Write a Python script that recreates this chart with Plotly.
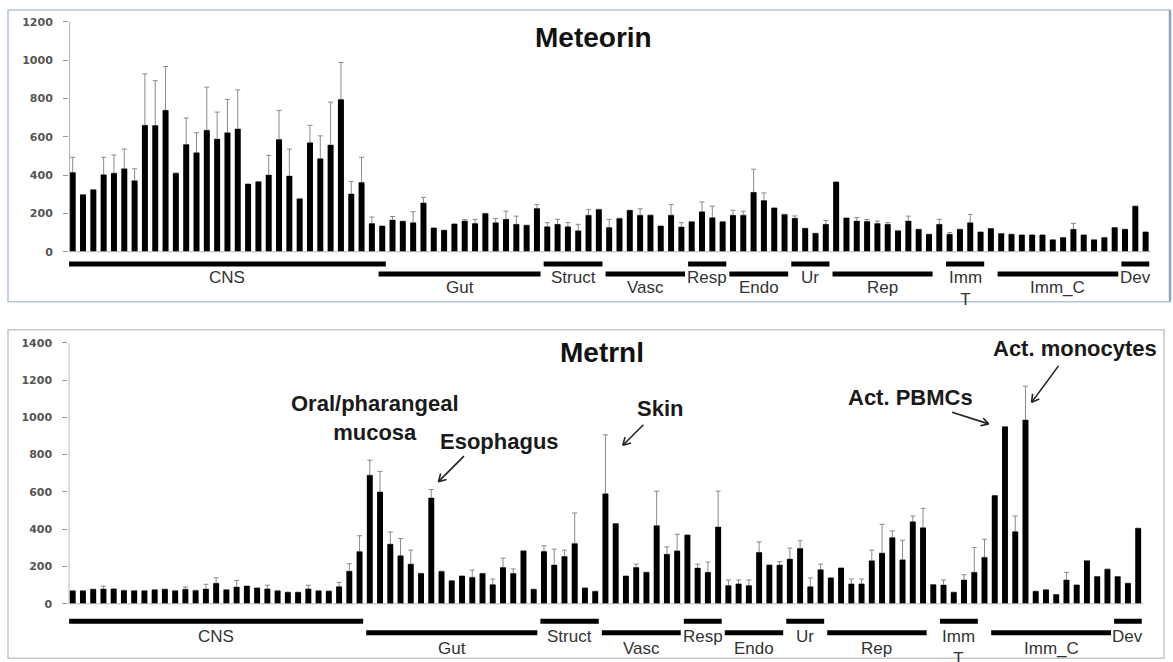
import math
import plotly.graph_objects as go

# ---------------- data ----------------
bar_index = list(range(1, 106))

meteorin = [414, 298, 324, 402, 410, 433, 371, 660, 659, 738,
            410, 560, 517, 634, 588, 621, 641, 353, 366, 400,
            586, 395, 276, 569, 486, 557, 795, 302, 362, 147,
            134, 166, 159, 152, 255, 124, 112, 145, 160, 148,
            200, 152, 169, 143, 138, 226, 131, 143, 131, 109,
            191, 221, 126, 174, 216, 191, 191, 134, 191, 129,
            157, 209, 178, 157, 191, 191, 310, 267, 229, 195,
            175, 122, 96, 143, 364, 176, 160, 158, 148, 143,
            109, 160, 117, 91, 143, 91, 117, 152, 103, 121,
            95, 91, 88, 88, 88, 62, 74, 117, 88, 62,
            74, 126, 117, 238, 103]
meteorin_err = [79, None, None, 91, 95, 103, 62, 268, 234, 229,
                None, 138, 104, 225, 141, 174, 204, None, None, 103,
                152, 141, None, 91, 119, 224, 193, 65, 131, 34,
                None, 18, None, 57, 29, None, None, None, 8, 21,
                None, 22, 43, 43, None, 21, 21, 26, 21, 34,
                30, None, 43, None, None, 33, None, None, 56, 23,
                None, 51, 60, None, 26, 21, 121, 40, None, None,
                12, None, None, 20, None, None, 18, 10, 12, 9,
                None, 26, None, None, 26, 9, None, 43, None, None,
                None, None, None, None, None, None, None, 31, None, None,
                None, None, None, None, None]

metrnl = [70, 70, 78, 80, 80, 72, 70, 70, 75, 78,
          70, 78, 72, 80, 110, 75, 90, 95, 85, 80,
          70, 62, 62, 80, 70, 68, 92, 175, 280, 690,
          600, 320, 258, 213, 163, 568, 174, 124, 149, 142,
          163, 103, 195, 163, 284, 78, 281, 208, 254, 323,
          85, 67, 590, 430, 149, 195, 169, 419, 266, 284,
          369, 192, 169, 412, 98, 107, 98, 276, 208, 208,
          240, 297, 92, 183, 139, 192, 107, 107, 231, 272,
          355, 236, 440, 408, 103, 101, 62, 128, 169, 249,
          581, 950, 387, 986, 67, 75, 50, 128, 101, 231,
          146, 186, 146, 110, 405]
metrnl_err = [None, None, None, 15, None, None, None, None, None, None,
              None, 12, None, 25, 30, None, 35, None, None, 20,
              None, None, None, 20, None, None, 23, 40, 85, 80,
              110, 65, 92, 75, None, 45, None, None, None, 39,
              None, 30, 50, 24, None, None, 30, 85, 34, 164,
              None, None, 316, None, None, 18, None, 185, 39, 89,
              None, 21, 55, 192, 30, 21, 30, 56, None, 18,
              59, 41, 47, 30, None, None, 26, 26, 57, 154,
              36, 105, 31, 104, None, 27, None, 28, 133, 97,
              None, None, 84, 181, None, None, None, 41, None, None,
              None, None, None, None, None]

groups = ["CNS", "Gut", "Struct", "Vasc", "Resp", "Endo", "Ur", "Rep",
          "Imm<br>T", "Imm_C", "Dev"]
meteorin_group_first = [1, 31, 47, 53, 61, 65, 71, 75, 86, 91, 103]
meteorin_group_last = [31, 46, 52, 60, 64, 70, 74, 84, 89, 102, 105]
metrnl_group_first = [1, 30, 47, 53, 61, 65, 71, 75, 86, 91, 103]
metrnl_group_last = [29, 46, 52, 60, 64, 70, 74, 84, 89, 102, 105]

yticks_top = [0, 200, 400, 600, 800, 1000, 1200]
yticks_bot = [0, 200, 400, 600, 800, 1000, 1200, 1400]

# ---------------- layout geometry (pixels) ----------------
W, H = 1173, 662
FONT = "Liberation Sans, Arial, sans-serif"


def pr(px):
    return 1 - px / H


panels = {
    "top": dict(xpx=(69, 1151), xr=(0.641, 105.52), ytop=16.0, yzero=248.0, ybot=297.0,
                ymax=1200, lines_px=(12.4, 22.4), label_px=2.0),
    "bot": dict(xpx=(68.3, 1143.3), xr=(0.57, 105.5), ytop=339.8, yzero=603.3, ybot=660.0,
                ymax=1400, lines_px=(17.7, 29.2), label_px=4.0),
}
for p in panels.values():
    upp = p["ymax"] / (p["yzero"] - p["ytop"])
    p["upp"] = upp
    p["ymin"] = -(p["ybot"] - p["yzero"]) * upp

fig = go.Figure()

shapes = []
annotations = []


def add_panel(values, errs, xa, ya, p, first, last):
    # transparent bars carrying the error bars (drawn first)
    fig.add_trace(go.Bar(x=bar_index, y=values, width=0.58, xaxis=xa, yaxis=ya,
                         marker=dict(color="rgba(0,0,0,0)", line=dict(width=0)),
                         error_y=dict(type="data", symmetric=False, array=errs,
                                      arrayminus=[0] * len(values), color="#8a8a8a",
                                      thickness=1, width=2.5),
                         hoverinfo="skip"))
    fig.add_trace(go.Bar(x=bar_index, y=values, width=0.58, xaxis=xa, yaxis=ya,
                         marker=dict(color="#000000", line=dict(width=0))))
    xref = "x" if xa == "x" else "x2"
    yref = "y" if ya == "y" else "y2"
    upp = p["upp"]
    # axis lines
    shapes.append(dict(type="line", xref=xref, yref=yref, x0=p["xr"][0] + 0.06, x1=p["xr"][0] + 0.06,
                       y0=0, y1=p["ymax"], line=dict(color="#aaaaaa", width=1)))
    shapes.append(dict(type="line", xref=xref, yref=yref, x0=p["xr"][0], x1=p["xr"][1],
                       y0=0, y1=0, line=dict(color="#bbbbbb", width=1)))
    # group bars + labels
    for i, (g, a, b) in enumerate(zip(groups, first, last)):
        off = p["lines_px"][i % 2]
        yl = -off * upp
        shapes.append(dict(type="line", xref=xref, yref=yref, x0=a - 0.35, x1=b + 0.35,
                           y0=yl, y1=yl, line=dict(color="#000000", width=5)))
        annotations.append(dict(xref=xref, yref=yref, x=(a + b) / 2, y=-(off + p["label_px"]) * upp,
                                text=g, showarrow=False, yanchor="top", xanchor="center",
                                font=dict(family=FONT, size=17, color="#333333")))


add_panel(meteorin, meteorin_err, "x", "y", panels["top"], meteorin_group_first, meteorin_group_last)
add_panel(metrnl, metrnl_err, "x2", "y2", panels["bot"], metrnl_group_first, metrnl_group_last)

pt, pb = panels["top"], panels["bot"]

# titles
annotations.append(dict(xref="x", yref="y", x=51.5, y=(pt["yzero"] - 32.0) * pt["upp"],
                        text="<b>Meteorin</b>", showarrow=False,
                        font=dict(family=FONT, size=28, color="#111111")))
annotations.append(dict(xref="x2", yref="y2", x=52.7, y=(pb["yzero"] - 350.0) * pb["upp"],
                        text="<b>Metrnl</b>", showarrow=False,
                        font=dict(family=FONT, size=28, color="#111111")))

# callouts on Metrnl
bold = dict(family=FONT, size=22, color="#1a1a1a")


def by(px):
    return (pb["yzero"] - px) * pb["upp"]


callouts = [
    ("<b>Oral/pharangeal</b><br><b>mucosa</b>", 30.5, by(416)),
    ("<b>Esophagus</b>", 42.7, by(439)),
    ("<b>Skin</b>", 58.3, by(406)),
    ("<b>Act. PBMCs</b>", 82.8, by(395)),
    ("<b>Act. monocytes</b>", 98.85, by(346)),
]
for t, x, y in callouts:
    annotations.append(dict(xref="x2", yref="y2", x=x, y=y, text=t, showarrow=False,
                            font=bold, align="center"))

arrows = [  # head (bar index, value), tail offset px
    (36.7, by(480), 27, -27),
    (54.7, by(443.3), 22, -22),
    (90.4, by(421.7), -38, -12),
    (94.6, by(400), 28, -38),
]
arrow_line = dict(showarrow=True, arrowhead=0, arrowwidth=1.6, arrowcolor="#222222",
                  text="", xref="x2", yref="y2")
for x, y, ax, ay in arrows:
    annotations.append(dict(x=x, y=y, ax=ax, ay=ay, **arrow_line))
    L = math.hypot(ax, ay)
    dx, dy = ax / L, ay / L
    for s in (1, -1):
        th = math.radians(30) * s
        wx = 10 * (dx * math.cos(th) - dy * math.sin(th))
        wy = 10 * (dx * math.sin(th) + dy * math.cos(th))
        annotations.append(dict(x=x, y=y, ax=wx, ay=wy, **arrow_line))

# panel frames
shapes.append(dict(type="rect", xref="paper", yref="paper", x0=8 / W, x1=1170 / W,
                   y0=pr(298.5), y1=pr(4.0), line=dict(color="#b7c5dc", width=1.5)))
shapes.append(dict(type="line", xref="paper", yref="paper", x0=1170 / W, x1=1170 / W,
                   y0=pr(298.5), y1=pr(4.0), line=dict(color="#8fa2c2", width=2.5)))
shapes.append(dict(type="rect", xref="paper", yref="paper", x0=8 / W, x1=1164 / W,
                   y0=pr(658.3), y1=pr(326.7), line=dict(color="#c8c8c8", width=1.5)))

tickfont = dict(family="DejaVu Sans", size=11, color="#555555", weight="bold")
common_x = dict(showgrid=False, zeroline=False, showline=False, showticklabels=False, ticks="")
common_y = dict(showgrid=False, zeroline=False, showline=False, ticks="outside", ticklen=5,
                tickcolor="#999999", tickwidth=1, tickfont=tickfont, ticklabelstandoff=8)

fig.update_layout(
    width=W, height=H, margin=dict(l=0, r=0, t=0, b=0), autosize=False,
    paper_bgcolor="white", plot_bgcolor="white", showlegend=False, barmode="overlay",
    xaxis=dict(domain=[pt["xpx"][0] / W, pt["xpx"][1] / W], range=list(pt["xr"]), anchor="y", **common_x),
    yaxis=dict(domain=[pr(pt["ybot"]), pr(pt["ytop"])], range=[pt["ymin"], pt["ymax"]],
               tickvals=yticks_top, anchor="x", **common_y),
    xaxis2=dict(domain=[pb["xpx"][0] / W, pb["xpx"][1] / W], range=list(pb["xr"]), anchor="y2", **common_x),
    yaxis2=dict(domain=[pr(pb["ybot"]), pr(pb["ytop"])], range=[pb["ymin"], pb["ymax"]],
                tickvals=yticks_bot, anchor="x2", **common_y),
    shapes=shapes, annotations=annotations,
)

fig.write_html("out.html", config={"displayModeBar": False, "responsive": False},
               post_script="document.body.style.margin='0';document.body.style.overflow='hidden';")
